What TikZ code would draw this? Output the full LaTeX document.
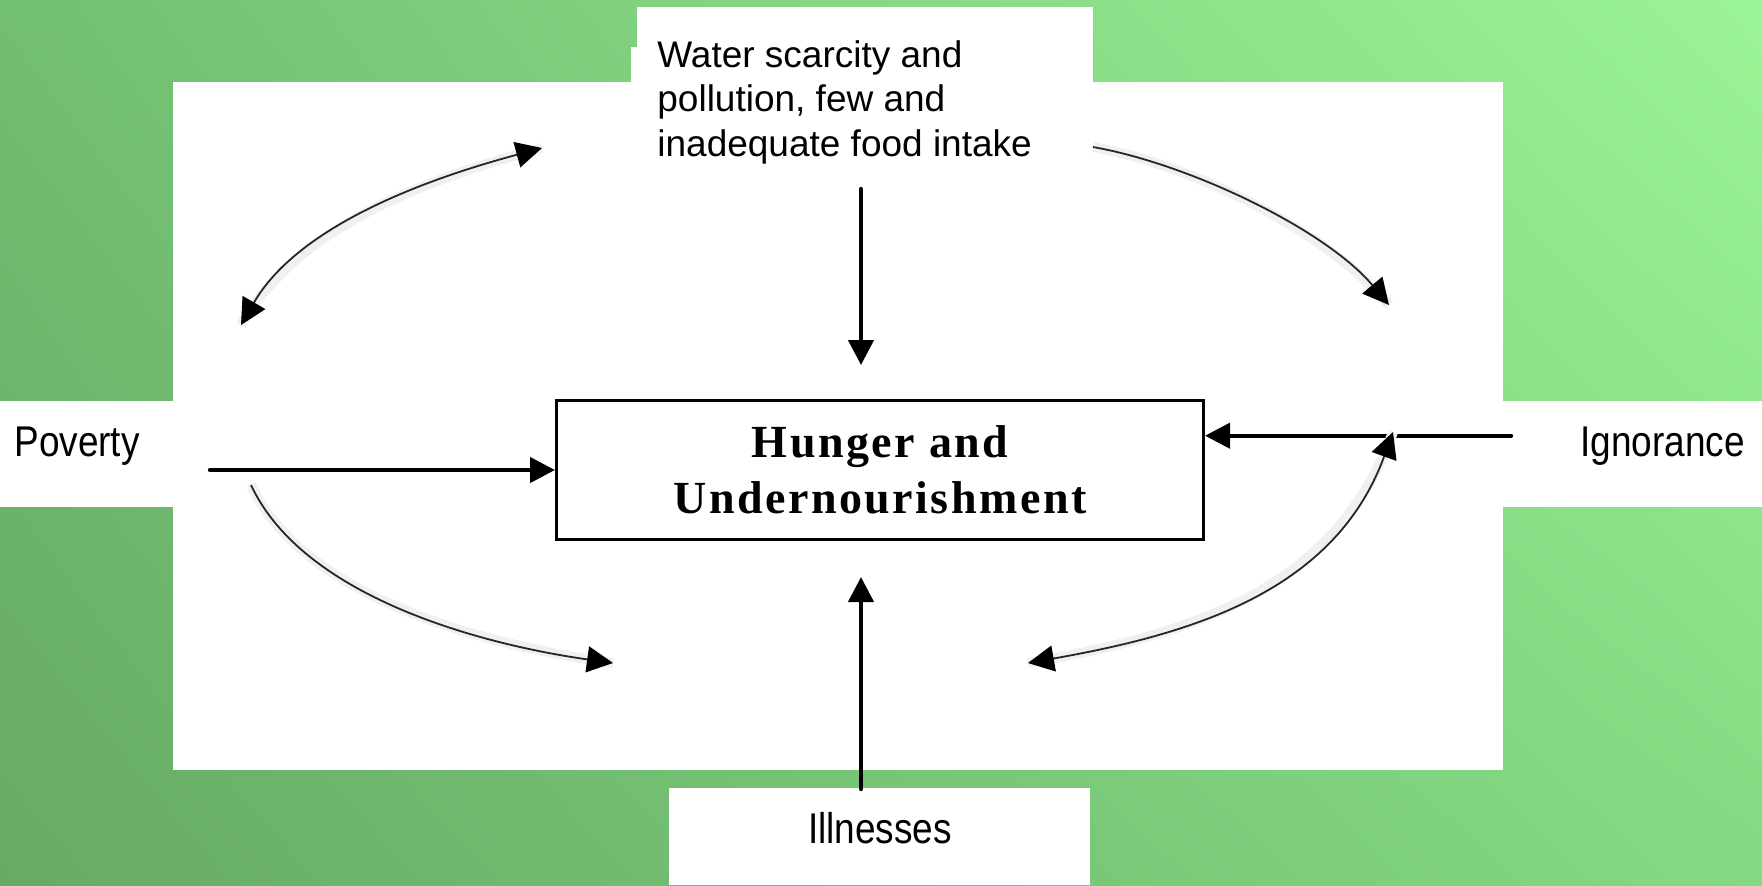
\documentclass[tikz,border=0pt]{standalone}
\usepackage{fontspec}
\setmainfont{Liberation Sans}
\newfontfamily\hungerfamily{Liberation Serif}[LetterSpace=5.4]
\usetikzlibrary{arrows.meta,shadings}

\definecolor{bgLL}{RGB}{102,170,102}
\definecolor{bgUL}{RGB}{114,190,114}
\definecolor{bgLR}{RGB}{132,218,130}
\definecolor{bgUR}{RGB}{155,244,150}

\tikzset{
  panel/.style={fill=white},
  sidelabel/.style={inner sep=0, font=\fontsize{21.5}{25}\selectfont},
  mainbox/.style={draw, line width=1.5pt, minimum width=323.5pt, minimum height=69.5pt,
    inner sep=0, align=center, font=\fontsize{23}{27.75}\selectfont\hungerfamily\bfseries},
  flow/.style={line width=2.2pt, line cap=round, -{Triangle[length=12.5pt,width=12.5pt]}},
  cycletip/.tip={Triangle[length=13pt,width=13pt,color=black]},
  cycle/.style={line width=0.9pt, draw=black!85,
    preaction={draw=black!6, line width=5pt, -}},
  cycleone/.style={cycle, -cycletip},
  cycletwo/.style={cycle, cycletip-cycletip}
}

\begin{document}
\begin{tikzpicture}[x=0.5pt, y=-0.5pt]
  \useasboundingbox (0,0) rectangle (1762,885);
  % green background
  \shade[lower left=bgLL, upper left=bgUL, lower right=bgLR, upper right=bgUR]
    (0,0) rectangle (1762,885);

  % white panels
  \fill[panel] (173,82) rectangle (1503,770);
  \fill[panel] (637,7) rectangle (1093,90);
  \fill[panel] (631,47) rectangle (1093,90);
  \fill[panel] (0,401) rectangle (173,507);
  \fill[panel] (1503,401) rectangle (1762,507);
  \fill[panel] (669,788) rectangle (1090,885);

  % labels
  \node[anchor=base west, inner sep=0, font=\fontsize{18.5}{22.25}\selectfont] (water) at (657,67)
    {\begin{tabular}[t]{@{}l@{}}Water scarcity and\\pollution, few and\\inadequate food intake\end{tabular}};
  \node[sidelabel, anchor=base west] (poverty) at (14,456) {\scalebox{0.86}[1]{Poverty}};
  \node[sidelabel, anchor=base west] (ignorance) at (1580,456) {\scalebox{0.86}[1]{Ignorance}};
  \node[sidelabel, anchor=base] (illness) at (880,843) {\scalebox{0.86}[1]{Illnesses}};

  % central box
  \node[mainbox] (hunger) at (880,470) {Hunger and\\Undernourishment};

  % straight arrows into the central box
  \coordinate (wtail) at (861,189);
  \coordinate (wtip) at (861,365);
  \coordinate (iltail) at (861,789);
  \coordinate (iltip) at (861,577);
  \coordinate (povtail) at (210,470);
  \coordinate (igtail) at (1511,435.7);
  \draw[flow] (wtail) -- (wtip);
  \draw[flow] (iltail) -- (iltip);
  \draw[flow] (povtail) -- (hunger.west);
  \draw[flow] (igtail) -- (igtail -| hunger.east);

  % curved arrows of the cycle
  \coordinate (c1a) at (241,325);
  \coordinate (c1b) at (542,148);
  \coordinate (c2a) at (1093,147);
  \coordinate (c2b) at (1389,305);
  \coordinate (c3a) at (251,485);
  \coordinate (c3b) at (613,663);
  \coordinate (c4a) at (1028,663);
  \coordinate (c4b) at (1393,432);
  \draw[cycletwo] (c1a) to[out=60, in=195, looseness=0.85] (c1b);
  \draw[cycleone] (c2a) to[out=-10, in=130, looseness=0.75] (c2b);
  \draw[cycleone] (c3a) to[out=-65, in=172, looseness=0.8] (c3b);
  \draw[cycletwo] (c4a) to[out=10, in=250] (c4b);
\end{tikzpicture}
\end{document}
